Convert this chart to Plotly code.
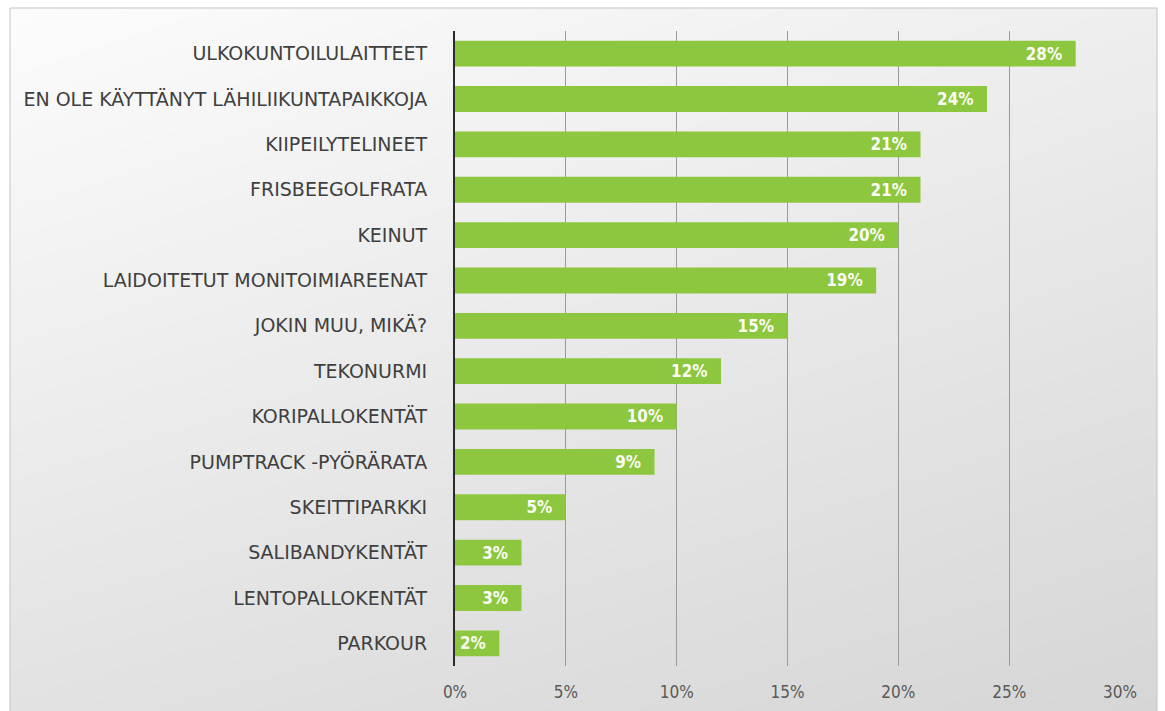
import plotly.graph_objects as go

# Survey results: share of respondents per outdoor exercise facility
categories = [
    "ULKOKUNTOILULAITTEET",
    "EN OLE KÄYTTÄNYT LÄHILIIKUNTAPAIKKOJA",
    "KIIPEILYTELINEET",
    "FRISBEEGOLFRATA",
    "KEINUT",
    "LAIDOITETUT MONITOIMIAREENAT",
    "JOKIN MUU, MIKÄ?",
    "TEKONURMI",
    "KORIPALLOKENTÄT",
    "PUMPTRACK -PYÖRÄRATA",
    "SKEITTIPARKKI",
    "SALIBANDYKENTÄT",
    "LENTOPALLOKENTÄT",
    "PARKOUR",
]
values = [28, 24, 21, 21, 20, 19, 15, 12, 10, 9, 5, 3, 3, 2]
tick_values = [0, 5, 10, 15, 20, 25, 30]
tick_labels = ["0%", "5%", "10%", "15%", "20%", "25%", "30%"]

# value labels, with a little non-breaking padding before the bar end
value_text = [f"{v}%\u00a0\u00a0" for v in values]

W, H = 1165, 711
FONT = "DejaVu Sans, sans-serif"
FONT_C = "DejaVu Sans Condensed, DejaVu Sans, sans-serif"
GREEN = "#8dc63f"

# plot-area edges in pixels
left, right, top, bottom = 455, 1120, 31, 666
# card edges in pixels
card_l, card_r, card_t = 10, 1157, 8

fig = go.Figure()

# soft gray gradient behind the chart (grey levels at the four corners)
fig.add_trace(go.Heatmap(
    x=[0, 1], y=[0, 1],
    z=[[226, 214], [252, 238]],
    zmin=0, zmax=255,
    colorscale=[[0, "black"], [1, "white"]],
    zsmooth="best", showscale=False, hoverinfo="skip",
    xaxis="x", yaxis="y",
))

fig.add_trace(go.Bar(
    x=values, y=categories, orientation="h",
    marker=dict(color=GREEN, line=dict(width=0)),
    text=value_text, texttemplate="%{text}",
    textposition="inside", insidetextanchor="end",
    textfont=dict(family=FONT_C, size=17, color="#fbfdf5", weight="bold"),
    xaxis="x2", yaxis="y2",
))

fig.update_layout(
    template="none",
    width=W, height=H,
    autosize=False,
    margin=dict(l=0, r=0, t=0, b=0, pad=0, autoexpand=False),
    paper_bgcolor="white",
    plot_bgcolor="rgba(0,0,0,0)",
    showlegend=False,
    bargap=0.43,
    xaxis=dict(domain=[card_l / W, card_r / W], range=[0, 1], visible=False,
               fixedrange=True, automargin=False),
    yaxis=dict(domain=[0, 1 - card_t / H], range=[0, 1], visible=False,
               fixedrange=True, automargin=False),
    xaxis2=dict(
        domain=[left / W, right / W], anchor="y2", automargin=False,
        range=[0, 30], tickvals=tick_values, ticktext=tick_labels,
        showgrid=True, gridcolor="#9a9a9a", gridwidth=1,
        zeroline=False, showline=False, ticks="",
        ticklabelstandoff=14,
        tickfont=dict(family=FONT_C, size=17, color="#595959"),
    ),
    yaxis2=dict(
        domain=[1 - bottom / H, 1 - top / H], anchor="x2", automargin=False,
        categoryorder="array", categoryarray=categories, autorange="reversed",
        showgrid=False, zeroline=False,
        showline=True, linecolor="#2b2b2b", linewidth=2,
        ticks="", ticklabelstandoff=22,
        tickfont=dict(family=FONT, size=19, color="#3f3f3f"),
    ),
    shapes=[dict(
        type="rect", xref="paper", yref="paper",
        x0=card_l / W, x1=card_r / W, y0=-0.01, y1=1 - card_t / H,
        line=dict(color="#c4c4c4", width=1), fillcolor="rgba(0,0,0,0)",
        layer="above",
    )],
)

fig.write_html("out.html")
